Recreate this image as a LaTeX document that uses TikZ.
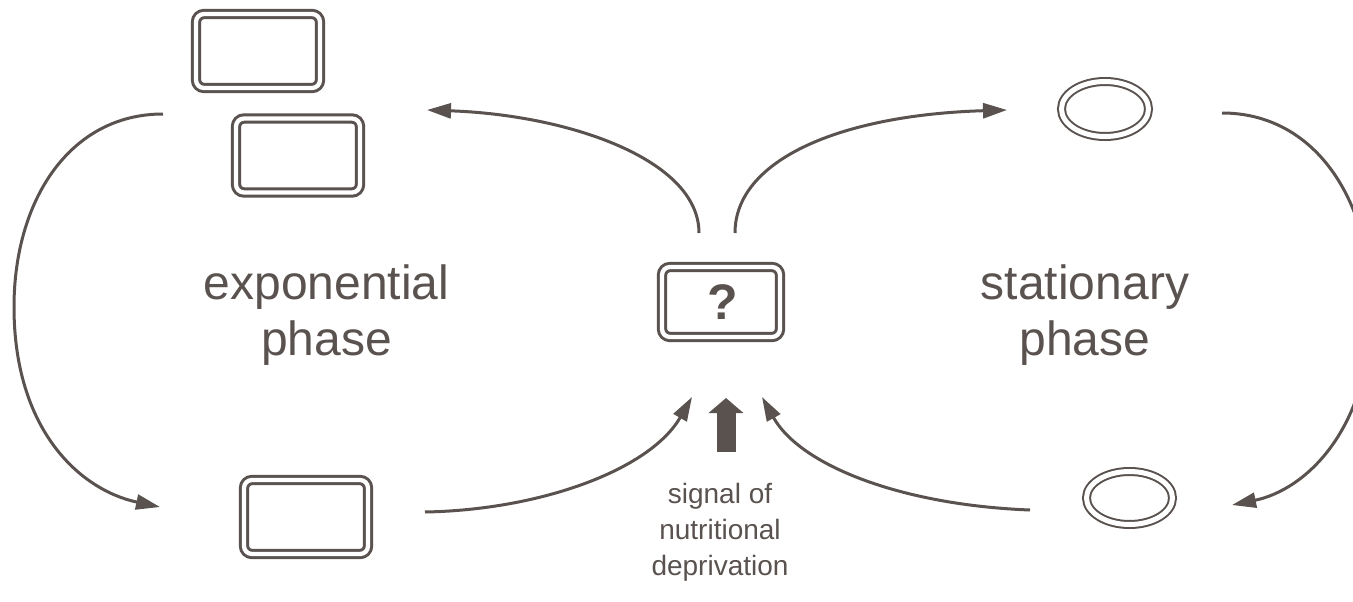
\documentclass[tikz,border=0pt]{standalone}
\usepackage{fontspec}
\setmainfont{Liberation Sans}
\usetikzlibrary{arrows.meta}
\usetikzlibrary{shapes.geometric}
\definecolor{ink}{RGB}{89,82,79}

\begin{document}
\begin{tikzpicture}[
    x=1pt, y=-1pt,
    every node/.style={text=ink},
    flow/.style={draw=ink, line width=3pt, -{Triangle[length=24pt, width=15pt]}},
    cell/.style={rectangle, rounded corners=8pt, draw=ink, double=white, line width=3pt,
        double distance=4.3pt, minimum width=124pt, minimum height=74pt, inner sep=0pt},
    spore/.style={ellipse, draw=ink, double=white, line width=2pt, double distance=5pt, inner sep=0pt},
    phase/.style={align=center, font=\fontsize{48}{56}\selectfont},
    ]
    \useasboundingbox (0,0) rectangle (1353,602);
    \clip (0,0) rectangle (1353,602);

    % cells and spores
    \node (rod1) [cell] at (258,51) {};
    \node (rod2) [cell] at (298,155.5) {};
    \node (rod3) [cell] at (306,517) {};
    \node (sig) [cell, minimum width=118pt, minimum height=70pt,
        font=\bfseries\fontsize{50}{60}\selectfont] at (721,302) {\hspace{4pt}?};
    \node (spore1) [spore, minimum width=87pt, minimum height=55pt] at (1105,109) {};
    \node (spore2) [spore, minimum width=86pt, minimum height=53pt] at (1129.5,498) {};

    % labels
    \node (expo) [phase] at (326.5,315.5) {exponential\\phase};
    \node (stat) [phase] at (1085,315.5) {stationary\\phase};
    \node (cue) [align=center, font=\fontsize{28}{36}\selectfont] at (720,532) {signal of\\nutritional\\deprivation};

    % free ends of the connectors
    \coordinate (loopLa) at (163,114);
    \coordinate (loopLb) at (160,507);
    \coordinate (loopRa) at (1222,113);
    \coordinate (loopRb) at (1232,505);
    \coordinate (upLa) at (699,233);
    \coordinate (upLb) at (427,110);
    \coordinate (upRa) at (735,233);
    \coordinate (upRb) at (1007,110);
    \coordinate (inLa) at (425,512);
    \coordinate (inLb) at (692,397);
    \coordinate (inRa) at (1030,510);
    \coordinate (inRb) at (762,397);
    \coordinate (cueB) at (726,452);
    \coordinate (cueT) at (726,398);

    \draw [flow] (loopLa) .. controls (70,114) and (14,200) .. (14,307)
        .. controls (14,430) and (80,490) .. (loopLb);
    \draw [flow] (loopRa) .. controls (1315,113) and (1371,200) .. (1371,307)
        .. controls (1371,430) and (1305,490) .. (loopRb);
    \draw [flow] (upLa) .. controls (699,160) and (570,115) .. (upLb);
    \draw [flow] (upRa) .. controls (735,160) and (840,115) .. (upRb);
    \draw [flow] (inLa) .. controls (540,510) and (650,470) .. (inLb);
    \draw [flow] (inRa) .. controls (900,505) and (800,465) .. (inRb);
    \draw [draw=ink, line width=19pt, -{Triangle[length=15pt, width=34pt]}] (cueB) -- (cueT);
\end{tikzpicture}
\end{document}
